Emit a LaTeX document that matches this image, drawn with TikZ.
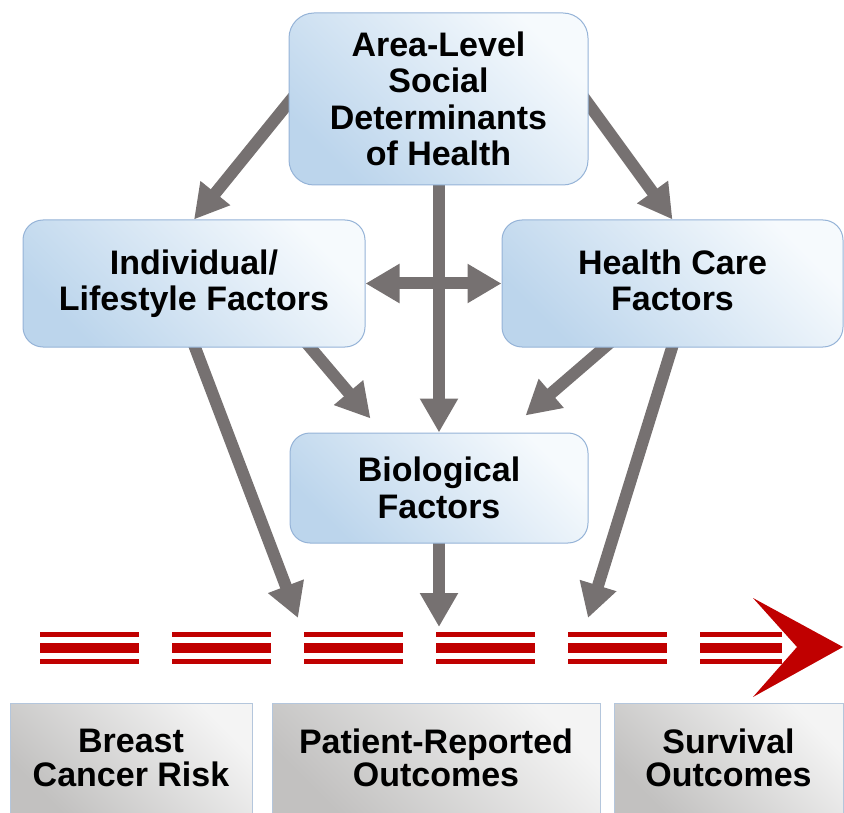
\documentclass[tikz,border=0pt]{standalone}
\usepackage{fontspec}
\setmainfont{Liberation Sans}
\usetikzlibrary{arrows.meta,calc}
\definecolor{arrowgray}{HTML}{767171}
\definecolor{boxblue}{HTML}{BCD5EC}
\definecolor{boxlight}{HTML}{F6FAFD}
\definecolor{boxedge}{HTML}{95B3D7}
\definecolor{graydark}{HTML}{C2C1C0}
\definecolor{graylight}{HTML}{F4F4F4}
\definecolor{grayedge}{HTML}{B4C6DC}
\definecolor{tlred}{HTML}{C00000}
\pgfdeclarelayer{back}
\pgfsetlayers{back,main}
\begin{document}
\begin{tikzpicture}[x=1pt,y=-1pt,
  factor/.style={draw=boxedge, line width=1pt, rounded corners=#1,
    top color=boxlight, bottom color=boxblue, shading angle=-45,
    align=center, font=\fontsize{34}{36.5}\selectfont\bfseries, inner sep=0pt},
  outcome/.style={draw=grayedge, line width=1pt,
    top color=graylight, bottom color=graydark, shading angle=-45,
    align=center, font=\fontsize{34}{33.5}\selectfont\bfseries, inner sep=0pt,
    minimum height=110pt},
  conn/.style={draw=arrowgray, line width=12pt,
    -{Triangle[length=34pt,width=36pt]}},
  dconn/.style={draw=arrowgray, line width=12pt,
    {Triangle[length=34pt,width=37pt]}-{Triangle[length=34pt,width=37pt]}},
  stripe/.style={fill=tlred}
]
\useasboundingbox (0,0) rectangle (844,813);

% boxes
\node[factor=25pt, minimum width=299pt, minimum height=172pt] (sdoh) at (438.5,99)
  {Area-Level\\Social\\Determinants\\of Health};
\node[factor=20pt, minimum width=342pt, minimum height=127pt] (ind) at (194,283.5)
  {Individual/\\Lifestyle Factors};
\node[factor=20pt, minimum width=341pt, minimum height=127pt] (hc) at (672.5,283.5)
  {Health Care\\Factors\vphantom{y}};
\node[factor=20pt, minimum width=298pt, minimum height=110pt] (bio) at (439,488)
  {Biological\\Factors};

\node[outcome, minimum width=242pt] (risk) at (131,758) {Breast\\Cancer Risk};
\node[outcome, minimum width=328pt] (pro) at (436,758) {Patient-Reported\\Outcomes};
\node[outcome, minimum width=229pt] (surv) at (728.5,758) {Survival\\Outcomes};

% free ends on the timeline
\coordinate (t1) at (298,618);
\coordinate (t2) at (439,627);
\coordinate (t3) at (588,618);

% timeline
\foreach \x in {40,172,304,436,568} {
  \fill[stripe] (\x,632) rectangle ++(99,5);
  \fill[stripe] (\x,643) rectangle ++(99,10);
  \fill[stripe] (\x,659) rectangle ++(99,5);
}
\fill[stripe] (753,598) -- (843,647) -- (753,697) -- (797,647) -- cycle;
\fill[white] (700,632) rectangle (782,664);
\fill[stripe] (700,632) rectangle (782,637);
\fill[stripe] (700,643) rectangle (782,653);
\fill[stripe] (700,659) rectangle (782,664);

% connectors
\begin{pgfonlayer}{back}
\draw[conn] ($(sdoh.west)+(8,-6)$) -- (ind.north);
\draw[conn] ($(sdoh.east)+(-8,-6)$) -- (hc.north);
\draw[conn] ($(sdoh.south)+(0.5,-10)$) -- (bio.north);
\draw[dconn] (ind.east) -- (ind.east -| hc.west);
\draw[conn] ($(ind.south east)+(-62,-8)$) -- ($(bio.north west)+(81,-14)$);
\draw[conn] ($(hc.south west)+(111,-7)$) -- ($(bio.north east)+(-63,-17)$);
\draw[conn] ($(ind.south)+(-2,-8)$) -- (t1);
\draw[conn] ($(hc.south)+(2,-8)$) -- (t3);
\draw[conn] ($(bio.south)+(0,-8)$) -- (t2);
\end{pgfonlayer}
\end{tikzpicture}
\end{document}
